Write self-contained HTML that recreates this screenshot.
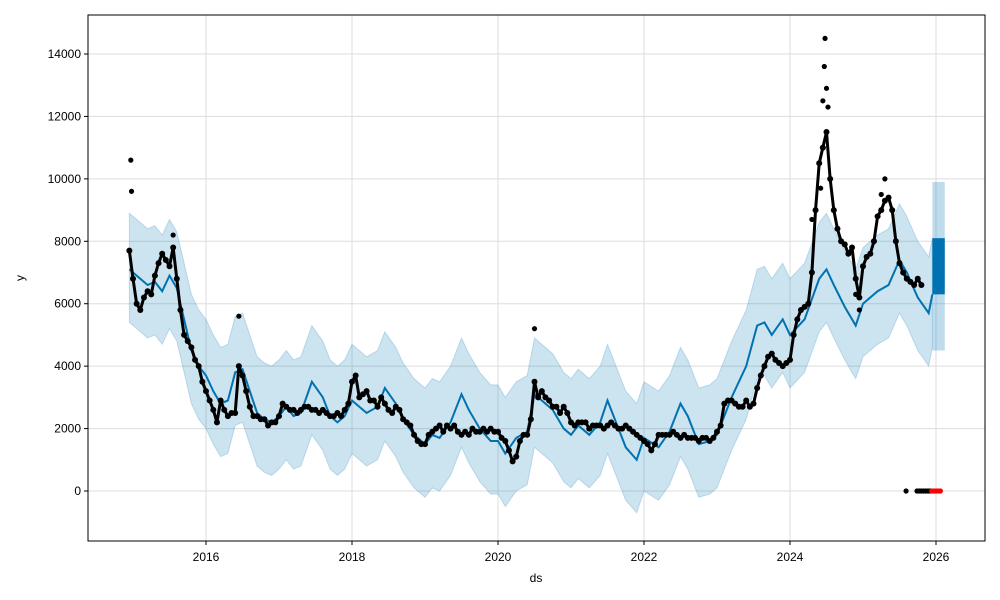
<!DOCTYPE html>
<html><head><meta charset="utf-8"><style>
html,body{margin:0;padding:0;background:#fff;}
svg{display:block;font-family:"Liberation Sans","DejaVu Sans",sans-serif;}
</style></head><body>
<svg id="chart" width="1000" height="600" viewBox="0 0 1000 600" xmlns="http://www.w3.org/2000/svg">
<rect width="1000" height="600" fill="#fff"/>
<g id="grid"></g>
<g id="band"></g>
<g id="line"></g>
<g id="pts"></g>
<rect x="88" y="15" width="897" height="526" fill="none" stroke="#000" stroke-width="1"/>
<g id="axes"></g>
<text x="536" y="582" font-size="12" text-anchor="middle">ds</text>
<text x="24" y="278" font-size="12" text-anchor="middle" transform="rotate(-90 24 278)">y</text>
</svg>
<script>
const xTicks = [2016, 2018, 2020, 2022, 2024, 2026];
const yTicks = [0, 2000, 4000, 6000, 8000, 10000, 12000, 14000];
const fcDates = [2014.95,2015.1,2015.2,2015.3,2015.4,2015.5,2015.6,2015.7,2015.8,2015.9,2016.0,2016.1,2016.2,2016.3,2016.4,2016.5,2016.6,2016.7,2016.8,2016.9,2017.0,2017.1,2017.2,2017.3,2017.45,2017.6,2017.7,2017.8,2017.9,2018.0,2018.2,2018.35,2018.45,2018.6,2018.7,2018.85,2019.0,2019.1,2019.2,2019.35,2019.5,2019.6,2019.75,2019.9,2020.0,2020.1,2020.25,2020.4,2020.5,2020.6,2020.75,2020.9,2021.0,2021.1,2021.25,2021.4,2021.5,2021.6,2021.75,2021.9,2022.0,2022.2,2022.35,2022.5,2022.6,2022.75,2022.9,2023.0,2023.2,2023.4,2023.55,2023.65,2023.75,2023.9,2024.0,2024.2,2024.4,2024.5,2024.6,2024.75,2024.9,2025.0,2025.2,2025.35,2025.5,2025.6,2025.75,2025.9,2025.95];
const fcValues = [7100,6800,6600,6700,6400,6900,6500,5500,4500,4000,3700,3200,2800,2900,3800,3900,3200,2500,2300,2200,2400,2700,2400,2500,3500,3000,2400,2200,2400,2900,2500,2700,3300,2800,2300,1800,1500,1800,1700,2200,3100,2600,2000,1600,1600,1200,1700,1900,3100,2900,2600,2000,1800,2100,1800,2200,2900,2300,1400,1000,1700,1400,1900,2800,2400,1500,1600,1800,3000,4000,5300,5400,5000,5500,5000,5500,6800,7100,6600,5900,5300,6000,6400,6600,7400,7000,6200,5700,6300];
const bandUpper = 1800;
const bandLower = 1700;
const tailDates = [2025.95, 2026.12];
const tailLow = [6300, 6300];
const tailHigh = [8100, 8100];
const tailBandLow = [4500, 4500];
const tailBandHigh = [9900, 9900];
const obsDates = [];
const obsValues = [7700,6800,6000,5800,6200,6400,6300,6900,7300,7600,7400,7200,7800,6800,5800,5000,4800,4600,4200,4000,3500,3200,2900,2600,2200,2900,2600,2400,2500,2500,4000,3700,3200,2700,2400,2400,2300,2300,2100,2200,2200,2400,2800,2700,2600,2600,2500,2600,2700,2700,2600,2600,2500,2600,2500,2400,2400,2500,2400,2600,2800,3500,3700,3000,3100,3200,2900,2900,2700,3000,2800,2600,2500,2700,2600,2300,2200,2100,1800,1600,1500,1500,1800,1900,2000,2100,1900,2100,2000,2100,1900,1800,1900,1800,2000,1900,1900,2000,1900,2000,1900,1900,1700,1600,1300,950,1100,1600,1800,1800,2300,3500,3000,3200,3000,2900,2700,2700,2500,2700,2500,2200,2100,2200,2200,2200,2000,2100,2100,2100,2000,2100,2200,2100,2000,2000,2100,2000,1900,1800,1700,1600,1500,1300,1500,1800,1800,1800,1800,1900,1800,1700,1800,1700,1700,1700,1600,1700,1700,1600,1700,1900,2100,2800,2900,2900,2800,2700,2700,2900,2700,2800,3300,3700,4000,4300,4400,4200,4100,4000,4100,4200,5000,5500,5800,5900,6000,7000,9000,10500,11000,11500,10000,9000,8400,8000,7900,7600,7800,6800,6200,7200,7500,7600,8000,8800,9000,9300,9400,9000,8000,7300,7000,6800,6700,6600,6800,6600];
for (let i = 0; i < obsValues.length; i++) obsDates.push(+(2014.95 + i*0.05).toFixed(2));
const spikeDates = [2014.97,2014.98,2015.55,2016.45,2020.5,2024.48,2024.47,2024.5,2024.45,2024.52,2024.42,2024.3,2025.3,2025.25,2024.95,2024.9];
const spikeValues = [10600,9600,8200,5600,5200,14500,13600,12900,12500,12300,9700,8700,10000,9500,5800,6300];
const zeroBlackDates = [2025.59,2025.74,2025.77,2025.8,2025.83,2025.86,2025.89,2025.92];
const zeroRedDates = [2025.94,2025.97,2026.0,2026.03,2026.06];

const X = d => 206 + (d - 2016) * 73;
const Y = v => 491 - v * (437 / 14000);
const NS = 'http://www.w3.org/2000/svg';
function mk(tag, parent, attrs) {
  const e = document.createElementNS(NS, tag);
  for (const k in attrs) e.setAttribute(k, attrs[k]);
  document.getElementById(parent).appendChild(e);
  return e;
}
xTicks.forEach(t => {
  const g = mk('line', 'grid', {x1: X(t), x2: X(t), y1: 15, y2: 541, stroke: '#ddd', 'stroke-width': 1});
  
  
  const tk = mk('line', 'axes', {x1: X(t), x2: X(t), y1: 541, y2: 545, stroke: '#000'});
  
  
  const tx = mk('text', 'axes', {x: X(t), y: 561, 'font-size': 12, 'text-anchor': 'middle'});
  tx.textContent = t;
  
  
});
yTicks.forEach(t => {
  const g = mk('line', 'grid', {x1: 88, x2: 985, y1: Y(t), y2: Y(t), stroke: '#ddd', 'stroke-width': 1});
  
  
  const tk = mk('line', 'axes', {x1: 84, x2: 88, y1: Y(t), y2: Y(t), stroke: '#000'});
  
  
  const tx = mk('text', 'axes', {x: 81, y: Y(t) + 4, 'font-size': 12, 'text-anchor': 'end'});
  tx.textContent = t;
  
  
});
let up = fcDates.map((d, i) => X(d) + ',' + Y(fcValues[i] + bandUpper));
let lo = fcDates.map((d, i) => X(d) + ',' + Y(fcValues[i] - bandLower)).reverse();
const bp = mk('polygon', 'band', {points: up.concat(lo).join(' '), fill: '#0072B2', 'fill-opacity': 0.2, stroke: '#0072B2', 'stroke-opacity': 0.2});


const tb = mk('rect', 'band', {x: X(tailDates[0]), y: Y(tailBandHigh[0]), width: X(tailDates[1]) - X(tailDates[0]), height: Y(tailBandLow[0]) - Y(tailBandHigh[0]), fill: '#0072B2', 'fill-opacity': 0.25});


const lp = mk('polyline', 'line', {points: fcDates.map((d, i) => X(d) + ',' + Y(fcValues[i])).join(' '), fill: 'none', stroke: '#0072B2', 'stroke-width': 2});


const tl = mk('rect', 'line', {x: X(tailDates[0]), y: Y(tailHigh[0]), width: X(tailDates[1]) - X(tailDates[0]), height: Y(tailLow[0]) - Y(tailHigh[0]), fill: '#0072B2'});


const op = mk('polyline', 'pts', {points: obsDates.map((d, i) => X(d) + ',' + Y(obsValues[i])).join(' '), fill: 'none', stroke: '#000', 'stroke-width': 3, 'stroke-linejoin': 'round'});


obsDates.forEach((d, i) => {
  const c = mk('circle', 'pts', {cx: X(d), cy: Y(obsValues[i]), r: 3, fill: '#000'});
  
  
});
spikeDates.forEach((d, i) => {
  const c = mk('circle', 'pts', {cx: X(d), cy: Y(spikeValues[i]), r: 2.6, fill: '#000'});
  
  
});
zeroBlackDates.forEach(d => {
  const c = mk('circle', 'pts', {cx: X(d), cy: Y(0), r: 2.6, fill: '#000'});
  
  
});
zeroRedDates.forEach(d => {
  const c = mk('circle', 'pts', {cx: X(d), cy: Y(0), r: 2.6, fill: '#ff0000'});
  
  
});
</script>
</body></html>
